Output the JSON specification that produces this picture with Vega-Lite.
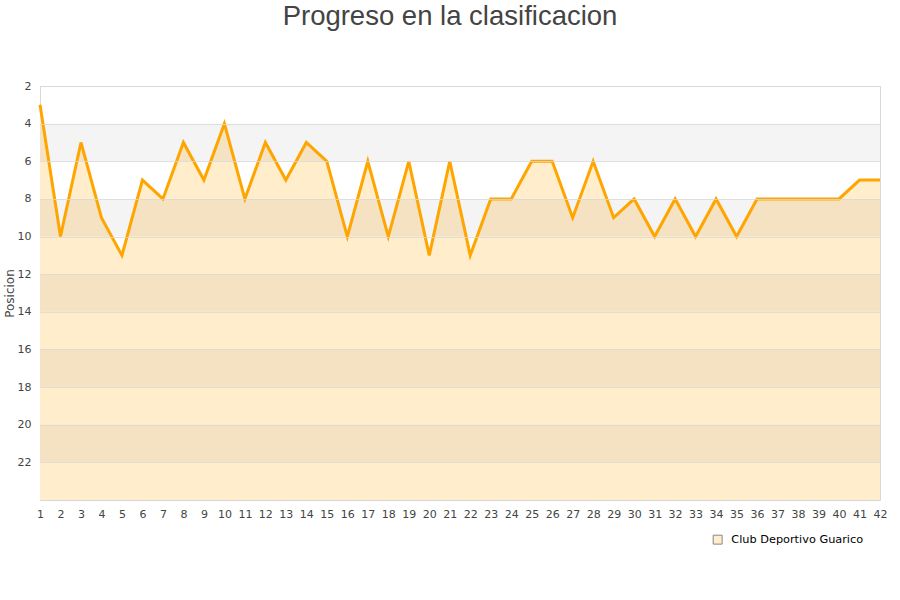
{
  "$schema": "https://vega.github.io/schema/vega-lite/v6.json",
  "width": 840,
  "height": 414,
  "autosize": {"type": "none"},
  "padding": {"left": 40, "top": 86, "right": 20, "bottom": 100},
  "background": "white",
  "config": {
    "font": "DejaVu Sans",
    "view": {"stroke": "#d8d8d8", "strokeWidth": 1},
    "axisX": {"labelOverlap": false}
  },
  "title": {
    "text": "Progreso en la clasificacion",
    "font": "Liberation Sans",
    "fontSize": 27.5,
    "fontWeight": "normal",
    "color": "#444444",
    "anchor": "middle",
    "dx": -10,
    "offset": 50
  },
  "datasets": {
    "bands": [
      {"y1": 4, "y2": 6},
      {"y1": 8, "y2": 10},
      {"y1": 12, "y2": 14},
      {"y1": 16, "y2": 18},
      {"y1": 20, "y2": 22}
    ],
    "pos": [
      {"jornada": 1, "posicion": 3, "equipo": "Club Deportivo Guarico"},
      {"jornada": 2, "posicion": 10, "equipo": "Club Deportivo Guarico"},
      {"jornada": 3, "posicion": 5, "equipo": "Club Deportivo Guarico"},
      {"jornada": 4, "posicion": 9, "equipo": "Club Deportivo Guarico"},
      {"jornada": 5, "posicion": 11, "equipo": "Club Deportivo Guarico"},
      {"jornada": 6, "posicion": 7, "equipo": "Club Deportivo Guarico"},
      {"jornada": 7, "posicion": 8, "equipo": "Club Deportivo Guarico"},
      {"jornada": 8, "posicion": 5, "equipo": "Club Deportivo Guarico"},
      {"jornada": 9, "posicion": 7, "equipo": "Club Deportivo Guarico"},
      {"jornada": 10, "posicion": 4, "equipo": "Club Deportivo Guarico"},
      {"jornada": 11, "posicion": 8, "equipo": "Club Deportivo Guarico"},
      {"jornada": 12, "posicion": 5, "equipo": "Club Deportivo Guarico"},
      {"jornada": 13, "posicion": 7, "equipo": "Club Deportivo Guarico"},
      {"jornada": 14, "posicion": 5, "equipo": "Club Deportivo Guarico"},
      {"jornada": 15, "posicion": 6, "equipo": "Club Deportivo Guarico"},
      {"jornada": 16, "posicion": 10, "equipo": "Club Deportivo Guarico"},
      {"jornada": 17, "posicion": 6, "equipo": "Club Deportivo Guarico"},
      {"jornada": 18, "posicion": 10, "equipo": "Club Deportivo Guarico"},
      {"jornada": 19, "posicion": 6, "equipo": "Club Deportivo Guarico"},
      {"jornada": 20, "posicion": 11, "equipo": "Club Deportivo Guarico"},
      {"jornada": 21, "posicion": 6, "equipo": "Club Deportivo Guarico"},
      {"jornada": 22, "posicion": 11, "equipo": "Club Deportivo Guarico"},
      {"jornada": 23, "posicion": 8, "equipo": "Club Deportivo Guarico"},
      {"jornada": 24, "posicion": 8, "equipo": "Club Deportivo Guarico"},
      {"jornada": 25, "posicion": 6, "equipo": "Club Deportivo Guarico"},
      {"jornada": 26, "posicion": 6, "equipo": "Club Deportivo Guarico"},
      {"jornada": 27, "posicion": 9, "equipo": "Club Deportivo Guarico"},
      {"jornada": 28, "posicion": 6, "equipo": "Club Deportivo Guarico"},
      {"jornada": 29, "posicion": 9, "equipo": "Club Deportivo Guarico"},
      {"jornada": 30, "posicion": 8, "equipo": "Club Deportivo Guarico"},
      {"jornada": 31, "posicion": 10, "equipo": "Club Deportivo Guarico"},
      {"jornada": 32, "posicion": 8, "equipo": "Club Deportivo Guarico"},
      {"jornada": 33, "posicion": 10, "equipo": "Club Deportivo Guarico"},
      {"jornada": 34, "posicion": 8, "equipo": "Club Deportivo Guarico"},
      {"jornada": 35, "posicion": 10, "equipo": "Club Deportivo Guarico"},
      {"jornada": 36, "posicion": 8, "equipo": "Club Deportivo Guarico"},
      {"jornada": 37, "posicion": 8, "equipo": "Club Deportivo Guarico"},
      {"jornada": 38, "posicion": 8, "equipo": "Club Deportivo Guarico"},
      {"jornada": 39, "posicion": 8, "equipo": "Club Deportivo Guarico"},
      {"jornada": 40, "posicion": 8, "equipo": "Club Deportivo Guarico"},
      {"jornada": 41, "posicion": 7, "equipo": "Club Deportivo Guarico"},
      {"jornada": 42, "posicion": 7, "equipo": "Club Deportivo Guarico"}
    ]
  },
  "layer": [
    {
      "data": {"name": "pos"},
      "mark": {"type": "area", "fillOpacity": 1, "interpolate": "linear"},
      "encoding": {
        "x": {
          "field": "jornada",
          "type": "ordinal",
          "scale": {"type": "point", "padding": 0},
          "axis": {
            "title": null,
            "grid": false,
            "ticks": false,
            "domain": false,
            "labelAngle": 0,
            "labelFontSize": 11,
            "labelColor": "#444444",
            "labelPadding": 8,
            "labelOverlap": false
          }
        },
        "y": {
          "field": "posicion",
          "type": "quantitative",
          "scale": {"domain": [2, 24], "reverse": true, "nice": false},
          "axis": {
            "title": "Posicion",
            "titleFontSize": 12,
            "titleFontWeight": "normal",
            "titleColor": "#444444",
            "titlePadding": 1,
            "values": [2,4,6,8,10,12,14,16,18,20,22],
            "ticks": false,
            "domain": false,
            "grid": true,
            "gridColor": "#d8d8d8",
            "gridOpacity": 0.8,
            "zindex": 1,
            "labelFontSize": 11,
            "labelColor": "#444444",
            "labelPadding": 9
          }
        },
        "y2": {"datum": 24},
        "fill": {
          "datum": "Club Deportivo Guarico",
          "type": "nominal",
          "scale": {"range": ["#FFEDCC"]},
          "legend": {
            "title": null,
            "orient": "none",
            "legendX": 672,
            "legendY": 448,
            "symbolType": "square",
            "symbolSize": 80,
            "labelFontSize": 11.3,
            "labelOffset": 8,
            "labelColor": "#000000",
            "symbolStrokeColor": "#888888",
            "symbolStrokeWidth": 1,
            "symbolOpacity": 1,
            "encode": {
              "symbols": {"update": {"stroke": {"value": "#888888"}, "strokeWidth": {"value": 1}}}
            }
          }
        }
      }
    },
    {
      "data": {"name": "bands"},
      "mark": {"type": "rect", "fill": "#000000", "opacity": 0.045},
      "encoding": {
        "y": {"field": "y1", "type": "quantitative"},
        "y2": {"field": "y2"}
      }
    },
    {
      "data": {"name": "pos"},
      "mark": {"type": "line", "color": "#FFA500", "strokeWidth": 3, "interpolate": "linear"},
      "encoding": {
        "x": {"field": "jornada", "type": "ordinal"},
        "y": {"field": "posicion", "type": "quantitative"}
      }
    }
  ]
}
